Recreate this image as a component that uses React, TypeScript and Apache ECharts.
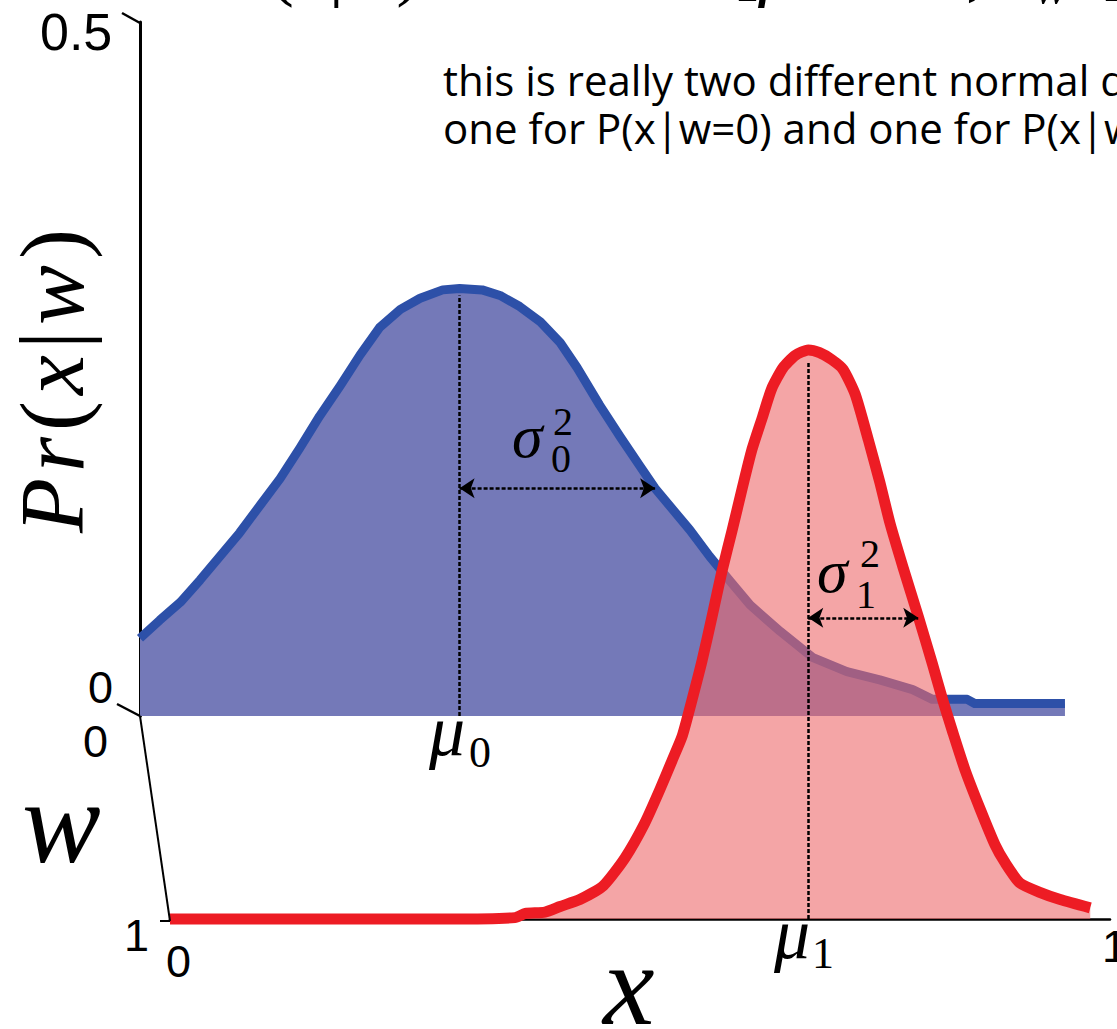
import { useEffect, useRef } from "react";
import * as echarts from "echarts";

// Pr(x | w = 0): positions along x (0..1) and density values
const blueX = [0, 0.021, 0.043, 0.064, 0.085, 0.106, 0.128, 0.149, 0.17, 0.191, 0.213, 0.234, 0.255, 0.277, 0.298, 0.322, 0.34, 0.364, 0.383, 0.404, 0.426, 0.447, 0.465, 0.489, 0.511, 0.532, 0.548, 0.564, 0.585, 0.606, 0.628, 0.649, 0.681, 0.716, 0.752, 0.787, 0.822, 0.843, 0.856, 0.88, 0.888, 0.984];
const blueY = [0.056, 0.069, 0.082, 0.098, 0.115, 0.132, 0.152, 0.171, 0.193, 0.216, 0.238, 0.26, 0.28, 0.293, 0.301, 0.307, 0.308, 0.307, 0.303, 0.295, 0.284, 0.269, 0.251, 0.224, 0.201, 0.18, 0.164, 0.151, 0.134, 0.115, 0.097, 0.08, 0.061, 0.042, 0.032, 0.026, 0.019, 0.012, 0.012, 0.012, 0.009, 0.009];

// Pr(x | w = 1)
const redX = [0, 0.138, 0.298, 0.367, 0.378, 0.399, 0.415, 0.436, 0.461, 0.484, 0.505, 0.521, 0.534, 0.545, 0.555, 0.566, 0.577, 0.587, 0.598, 0.609, 0.619, 0.63, 0.64, 0.652, 0.665, 0.679, 0.691, 0.704, 0.716, 0.729, 0.743, 0.755, 0.766, 0.78, 0.796, 0.811, 0.822, 0.833, 0.846, 0.862, 0.878, 0.888, 0.904, 0.926, 0.947, 0.979];
const redY = [0, 0, 0, 0.001, 0.004, 0.005, 0.009, 0.014, 0.024, 0.044, 0.069, 0.093, 0.114, 0.132, 0.157, 0.186, 0.219, 0.25, 0.28, 0.311, 0.338, 0.361, 0.382, 0.397, 0.406, 0.41, 0.408, 0.403, 0.396, 0.378, 0.345, 0.315, 0.285, 0.253, 0.218, 0.184, 0.158, 0.134, 0.107, 0.079, 0.053, 0.041, 0.026, 0.019, 0.014, 0.008];

// means, heights of the mean markers, and the spread arrows (w = 0, w = 1)
const means = [0.34, 0.679];
const meanTops = [0.303, 0.402];
const spreadY = [0.164, 0.217];
const spreadEnd = [0.548, 0.796];

// tick labels
const densityTicks = ["0", "0.5"];
const wTicks = ["0", "1"];
const xTicks = ["0", "1"];

const SERIF = "Liberation Serif";
const SANS = "Liberation Sans";

function label(text: string, x: number, y: number, size: number, family = SANS, italic = false, extra: any = {}) {
  return {
    type: "text",
    x,
    y,
    silent: true,
    z: 50,
    style: {
      text,
      fontSize: size,
      fontFamily: family,
      fontStyle: italic ? "italic" : "normal",
      fill: "#000",
      align: "left",
      verticalAlign: "middle",
      textAlign: "left",
      textVerticalAlign: "middle",
      ...extra,
    },
  };
}

function line(x1: number, y1: number, x2: number, y2: number, w: number) {
  return {
    type: "line",
    silent: true,
    z: 40,
    shape: { x1, y1, x2, y2 },
    style: { stroke: "#000", lineWidth: w },
  };
}

const dash = [4, 2];

export default function App() {
  const ref = useRef<HTMLDivElement>(null);

  useEffect(() => {
    if (!ref.current) return;
    const chart = echarts.init(ref.current, undefined, { renderer: "svg" });

    const blueData = blueX.map((x, i) => [x, blueY[i]]);
    const redData = redX.map((x, i) => [x, redY[i]]);

    const mathRich = {
      i: { fontFamily: SERIF, fontStyle: "italic", fontSize: 90, padding: [0, 3] },
      n: { fontFamily: SERIF, fontStyle: "normal", fontSize: 90, padding: [0, 3] },
    };
    const topRich = {
      i: { fontFamily: SERIF, fontStyle: "italic", fontSize: 78 },
      n: { fontFamily: SERIF, fontStyle: "normal", fontSize: 78 },
    };

    chart.setOption({
      animation: false,
      backgroundColor: "#fff",
      grid: [
        { left: 140, top: 22, width: 940, height: 694 },
        { left: 170, top: 225, width: 940, height: 694 },
      ],
      xAxis: [
        { type: "value", gridIndex: 0, min: 0, max: 1, show: false },
        {
          type: "value",
          gridIndex: 1,
          min: 0,
          max: 1,
          axisLine: { show: true, onZero: false, lineStyle: { color: "#000", width: 2.5 } },
          axisTick: { show: false },
          axisLabel: { show: false },
          splitLine: { show: false },
        },
      ],
      yAxis: [
        {
          type: "value",
          gridIndex: 0,
          min: 0,
          max: 0.5,
          axisLine: { show: true, lineStyle: { color: "#000", width: 3 } },
          axisTick: { show: false },
          axisLabel: { show: false },
          splitLine: { show: false },
        },
        { type: "value", gridIndex: 1, min: 0, max: 0.5, show: false },
      ],
      series: [
        {
          name: "w = 0",
          type: "line",
          xAxisIndex: 0,
          yAxisIndex: 0,
          data: blueData,
          showSymbol: false,
          clip: false,
          silent: true,
          z: 2,
          lineStyle: { color: "#2d50a8", width: 9, cap: "butt", join: "round" },
          areaStyle: { color: "#7479b8", opacity: 1 },
          markLine: {
            silent: true,
            z: 5,
            symbol: ["none", "none"],
            label: { show: false },
            emphasis: { disabled: true },
            data: [
              [
                { coord: [-0.0245, 0], lineStyle: { color: "#000", width: 3, type: "solid" } },
                { coord: [0.888, 0] },
              ],
              [
                { coord: [means[0], 0], lineStyle: { color: "#000", width: 2.5, type: dash } },
                { coord: [means[0], meanTops[0]] },
              ],
              [
                { coord: [means[0], spreadY[0]], symbol: "arrow", symbolSize: 15, lineStyle: { color: "#000", width: 2.5, type: dash } },
                { coord: [spreadEnd[0], spreadY[0]], symbol: "arrow", symbolSize: 15 },
              ],
            ],
          },
        },
        {
          name: "w = 1",
          type: "line",
          xAxisIndex: 1,
          yAxisIndex: 1,
          data: redData,
          showSymbol: false,
          smooth: 0.2,
          clip: false,
          silent: true,
          z: 10,
          lineStyle: { color: "#ed1c24", width: 11, cap: "butt", join: "round" },
          areaStyle: { color: "rgba(237,105,107,0.6)", opacity: 1 },
          markLine: {
            silent: true,
            z: 12,
            symbol: ["none", "none"],
            label: { show: false },
            emphasis: { disabled: true },
            data: [
              [
                { coord: [means[1], 0], lineStyle: { color: "#000", width: 2.5, type: dash } },
                { coord: [means[1], meanTops[1]] },
              ],
              [
                { coord: [means[1], spreadY[1]], symbol: "arrow", symbolSize: 15, lineStyle: { color: "#000", width: 2.5, type: dash } },
                { coord: [spreadEnd[1], spreadY[1]], symbol: "arrow", symbolSize: 15 },
              ],
            ],
          },
        },
      ],
      graphic: [
        // axis decorations
        line(122, 13, 140, 23, 2.5),
        line(117, 704, 140, 716, 2.5),
        line(140, 716, 170, 921, 2),
        line(160, 921, 170, 921, 2),

        // tick labels
        label(densityTicks[1], 40, 32, 52),
        label(densityTicks[0], 88, 687, 45),
        label(wTicks[0], 83, 741, 45),
        label(wTicks[1], 124, 935, 45),
        label(xTicks[0], 166, 961, 45),
        label(xTicks[1], 1102, 946, 45),

        // axis names
        label("w", 22, 822, 118, SERIF, true, { lineHeight: 80 }),
        label("x", 603, 985, 116, SERIF, true, { lineHeight: 80 }),
        {
          type: "text",
          x: 52,
          y: 381,
          rotation: Math.PI / 2,
          silent: true,
          z: 50,
          style: {
            text: "{i|P}{i|r}{n|(}{i|x}{n||}{i|w}{n|)}",
            rich: mathRich,
            fill: "#000",
            align: "center",
            verticalAlign: "middle",
            textAlign: "center",
            textVerticalAlign: "middle",
          },
        },

        // mean and spread symbols
        label("μ", 429, 731, 72, SERIF, true),
        label("0", 469, 752, 44, SERIF),
        label("μ", 774, 934, 72, SERIF, true),
        label("1", 812, 953, 44, SERIF),
        label("σ", 512, 436, 62, SERIF, true),
        label("2", 553, 421, 40, SERIF),
        label("0", 551, 458, 40, SERIF),
        label("σ", 817, 571, 62, SERIF, true),
        label("2", 860, 553, 40, SERIF),
        label("1", 856, 594, 40, SERIF),

        // formula running along the top edge
        {
          type: "text",
          x: 190,
          y: -36,
          silent: true,
          z: 50,
          style: {
            text: "{i|Pr}{n|(}{i|x}{n||}{i|w}{n|)}",
            rich: topRich,
            fill: "#000",
            align: "left",
            verticalAlign: "middle",
            textAlign: "left",
            textVerticalAlign: "middle",
          },
        },
        label("[", 733, -36, 78, SERIF),
        label("μ", 758, -36, 78, SERIF, true),
        label(",", 966, -36, 78, SERIF),
        label("w", 1034, -15, 52, SERIF, true),
        label("]", 1103, -36, 78, SERIF),

        // annotation
        label(
          "this is really two different normal distributions,\none for P(x|w=0) and one for P(x|w=1)",
          443,
          55,
          42,
          "Open Sans",
          false,
          { verticalAlign: "top", textVerticalAlign: "top", lineHeight: 48 }
        ),
      ],
    });

    return () => chart.dispose();
  }, []);

  return (
    <div
      ref={ref}
      style={{ position: "absolute", left: 0, top: 0, width: 1117, height: 1029, background: "#fff" }}
    />
  );
}
